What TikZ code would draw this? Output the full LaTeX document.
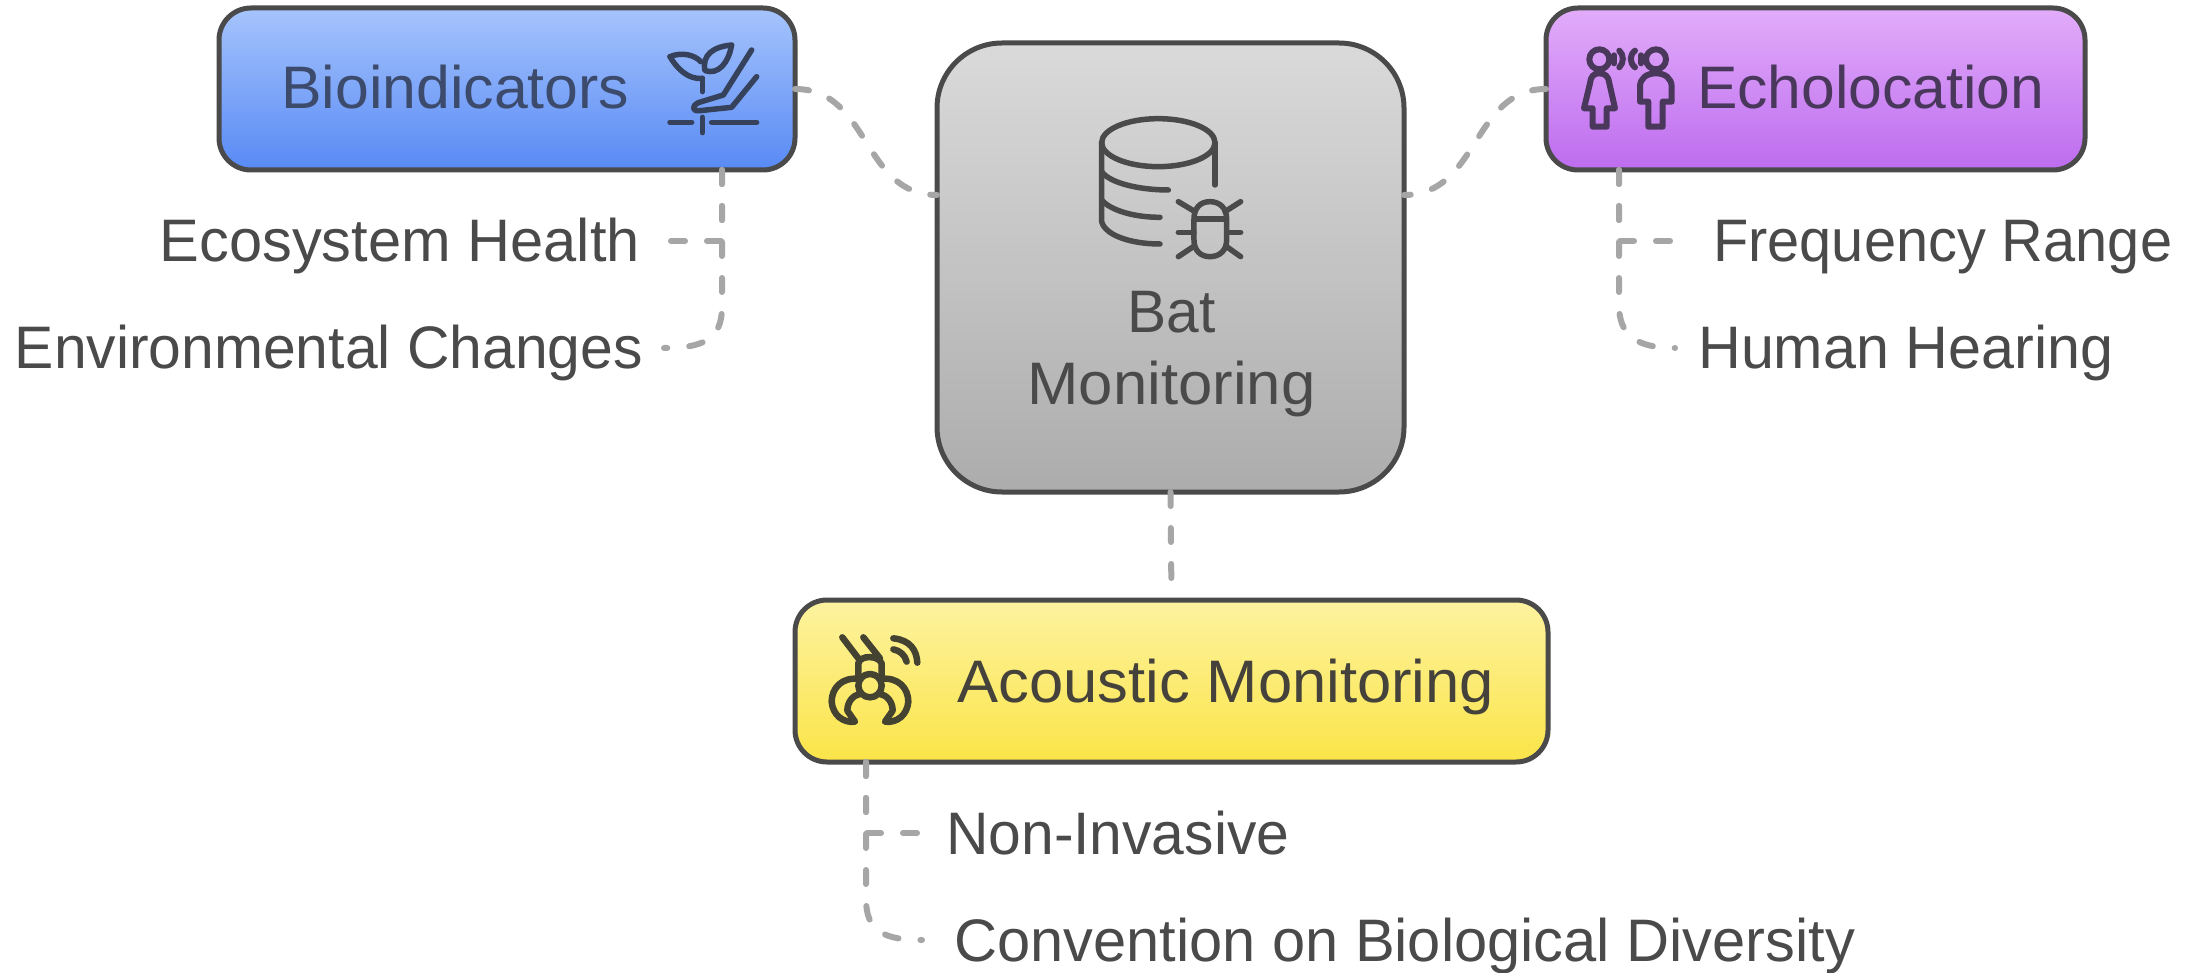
\documentclass[tikz,border=0pt]{standalone}
\usepackage{fontspec}
\usepackage{graphicx}
\setmainfont{Liberation Sans}
\newcommand{\tw}[2]{\resizebox{#1pt}{\height}{#2}}
\tikzset{
  every node/.style={font=\fontsize{60}{66}\selectfont},
  box/.style={draw=boxline,line width=5pt,rounded corners=32pt,outer sep=0pt,inner sep=0pt},
  conn/.style={draw=connc,line width=6pt,line cap=round,dash pattern=on 14pt off 22pt},
  lab/.style={inner sep=0pt},
  leafL/.style={anchor=base east,text=leaft,inner ysep=0pt,text height=42pt,text depth=0pt},
  leafR/.style={anchor=base west,text=leaft,inner ysep=0pt,text height=42pt,text depth=0pt},
  ico/.style={line width=5.5pt,line cap=round,line join=round},
}
\definecolor{boxline}{HTML}{4A4A4A}
\definecolor{connc}{HTML}{A6A6A6}
\definecolor{leaft}{HTML}{4A4A4A}
\begin{document}
\begin{tikzpicture}[x=1pt,y=-1pt]
\useasboundingbox (0,0) rectangle (2190,973);
\fill[white] (0,0) rectangle (2190,973);
% boxes
\node[box,minimum width=576pt,minimum height=162pt,top color={rgb,255:red,166;green,196;blue,252},bottom color={rgb,255:red,88;green,138;blue,245}] (bio) at (507,89) {};
\node[box,minimum width=539pt,minimum height=162pt,top color={rgb,255:red,226;green,172;blue,250},bottom color={rgb,255:red,189;green,108;blue,238}] (echo) at (1815.5,89) {};
\node[box,minimum width=753pt,minimum height=162pt,top color={rgb,255:red,253;green,243;blue,160},bottom color={rgb,255:red,251;green,228;blue,72}] (acou) at (1171.5,681) {};
\node[box,rounded corners=65pt,minimum width=467pt,minimum height=449pt,top color={rgb,255:red,218;green,218;blue,218},bottom color={rgb,255:red,172;green,172;blue,172}] (bat) at (1170.5,267.5) {};
% box labels
\node[lab,anchor=base west,text={rgb,255:red,60;green,74;blue,108}] (biot) at (281,109) {\tw{348}{Bioindicators}};
\node[lab,anchor=base west,text={rgb,255:red,74;green,56;blue,92}] (echot) at (1697,109) {\tw{347}{Echolocation}};
\node[lab,anchor=base west,text={rgb,255:red,68;green,66;blue,58}] (acout) at (957,702) {\tw{537}{Acoustic Monitoring}};
\node[lab,anchor=base,text=boxline] (batt) at (1171.5,333) {\tw{88}{Bat}};
\node[lab,anchor=base,text=boxline] (batm) at (1171.5,404) {\tw{288}{Monitoring}};
% leaves
\node[leafL,inner xsep=30pt] (eco) at (670,262) {\tw{480}{Ecosystem Health}};
\node[leafL,inner xsep=21pt] (env) at (664,369) {\tw{628}{Environmental Changes}};
\node[leafR,inner xsep=41pt] (freq) at (1672,262) {\tw{459}{Frequency Range}};
\node[leafR,inner xsep=23pt] (hum) at (1675,369) {\tw{415}{Human Hearing}};
\node[leafR,inner xsep=28pt] (non) at (918,854) {\tw{343}{Non-Invasive}};
\node[leafR,inner xsep=32pt] (conv) at (922,961) {\tw{901}{Convention on Biological Diversity}};
% connector anchors
\coordinate (bioS) at (722,170);
\coordinate (echoS) at (1619,170);
\coordinate (acouS) at (866,762);
\coordinate (batW) at (937,195);
\coordinate (batE) at (1404,195);
\coordinate (bioE) at (795,89);
\coordinate (echoW) at (1546,89);
% connectors
\draw[conn] (bioE) .. controls (870,89) and (862,195) .. (batW);
\draw[conn] (echoW) .. controls (1472,89) and (1479,195) .. (batE);
\draw[conn,shorten >=4pt] (bat.south) -- (acou.north);
\draw[conn] (bioS) |- (eco.east);
\draw[conn] (bioS) -- (722,307) .. controls (722,340) and (702,348) .. (env.east);
\draw[conn] (echoS) |- (freq.west);
\draw[conn] (echoS) -- (1619,305) .. controls (1619,335) and (1636,348) .. (hum.west);
\draw[conn] (acouS) |- (non.west);
\draw[conn] (acouS) -- (866,899) .. controls (866,932) and (885,940) .. (conv.west);
% plant icon
\begin{scope}[shift={(620,0)},x=0.3333pt,y=-0.3333pt,ico,draw={rgb,255:red,54;green,66;blue,92}]
\draw (247,275) -- (247,235);
\draw (150,170) .. controls (185,155) and (225,165) .. (242,185);
\draw (150,170) .. controls (170,205) and (205,240) .. (247,235);
\draw (335,135) .. controls (280,140) and (245,165) .. (255,212) .. controls (295,225) and (325,190) .. (335,135);
\draw (395,150) -- (310,285) -- (235,308) .. controls (215,318) and (215,335) .. (240,332) -- (335,322) -- (410,230);
\draw (150,367) -- (215,367);
\draw (275,367) -- (410,367);
\draw (247,352) -- (247,398);
\end{scope}
% database bug icon
\begin{scope}[shift={(1050,100)},x=0.3333pt,y=-0.3333pt,ico,draw=boxline]
\draw (325,128) ellipse [x radius=170,y radius=72];
\draw (155,128) -- (155,365) .. controls (165,405) and (240,432) .. (330,432);
\draw (495,128) -- (495,255);
\draw (155,215) .. controls (180,250) and (270,270) .. (355,270);
\draw (155,300) .. controls (180,330) and (250,352) .. (330,352);
\draw (432,357) .. controls (432,325) and (450,305) .. (480,305) .. controls (510,305) and (530,325) .. (530,357) -- (530,420) .. controls (530,450) and (510,470) .. (480,470) .. controls (450,470) and (432,450) .. (432,420) -- cycle;
\draw (435,357) -- (528,357);
\draw (385,305) -- (435,335);
\draw (572,305) -- (525,335);
\draw (385,397) -- (432,397);
\draw (572,397) -- (530,397);
\draw (385,470) -- (430,440);
\draw (572,470) -- (530,440);
\end{scope}
% people icon
\begin{scope}[shift={(1560,30)},x=0.3333pt,y=-0.3333pt,ico,line width=6pt,draw={rgb,255:red,74;green,56;blue,92}]
\draw (118,88) circle [radius=30];
\draw (288,88) circle [radius=30];
\draw (118,130) .. controls (100,130) and (92,140) .. (90,160) -- (72,235) -- (98,235) -- (98,290) -- (140,290) -- (140,235) -- (165,235) -- (148,160) .. controls (146,140) and (136,130) .. (118,130) -- cycle;
\draw (288,130) .. controls (260,130) and (240,145) .. (240,170) -- (240,215) -- (265,215) -- (265,290) -- (308,290) -- (308,215) -- (335,215) -- (335,170) .. controls (335,145) and (315,130) .. (288,130) -- cycle;
\draw (163,76) -- (163,100);
\draw (178,62) .. controls (192,75) and (192,98) .. (178,112);
\draw (243,76) -- (243,100);
\draw (225,62) .. controls (208,75) and (208,98) .. (225,112);
\end{scope}
% claw icon
\begin{scope}[shift={(810,620)},x=0.3333pt,y=-0.3333pt,ico,line width=6.5pt,draw={rgb,255:red,68;green,66;blue,48}]
\draw (97,52) -- (145,115);
\draw (160,52) -- (210,115);
\draw (145,165) -- (145,130) .. controls (150,105) and (205,105) .. (215,130) -- (215,165);
\draw (180,197) circle [radius=35];
\draw (148,177) .. controls (95,170) and (65,205) .. (65,245) .. controls (68,285) and (100,310) .. (135,305) -- (112,272) .. controls (112,245) and (130,225) .. (150,222);
\draw (212,177) .. controls (265,170) and (295,205) .. (295,245) .. controls (292,285) and (260,310) .. (225,305) -- (248,272) .. controls (248,245) and (230,225) .. (210,222);
\draw (250,55) .. controls (300,60) and (320,90) .. (322,128);
\draw (250,88) .. controls (270,92) and (285,105) .. (290,125);
\end{scope}
\end{tikzpicture}
\end{document}
